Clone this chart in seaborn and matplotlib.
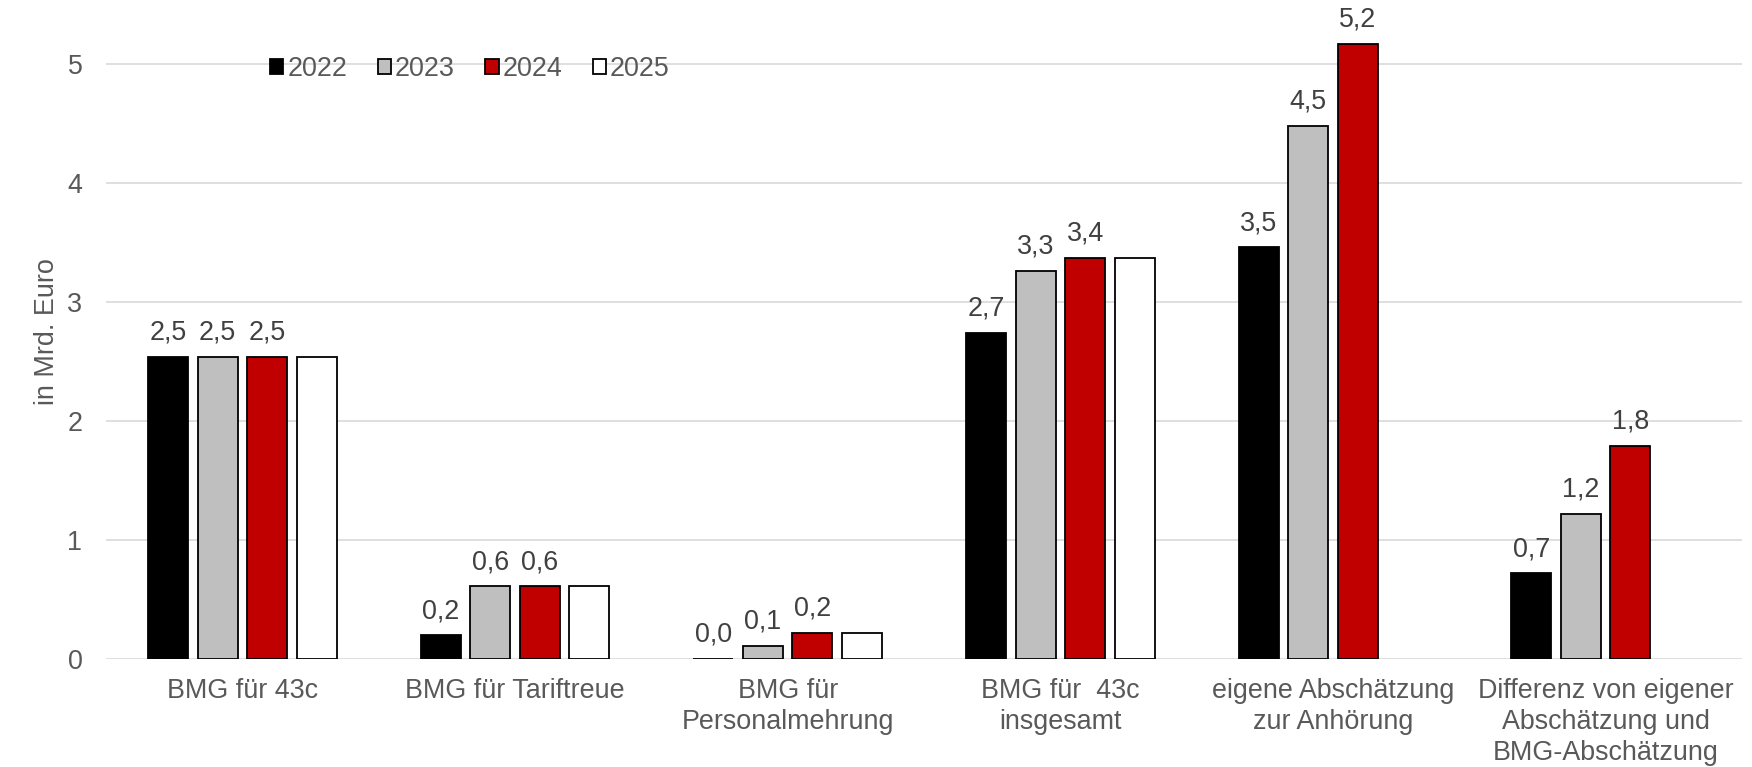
import numpy as np
import pandas as pd
import matplotlib
matplotlib.use("Agg")
import matplotlib.pyplot as plt
from matplotlib.patches import Patch
import seaborn as sns

categories = ["BMG für 43c", "BMG für Tariftreue", "BMG für\nPersonalmehrung",
              "BMG für  43c\ninsgesamt", "eigene Abschätzung\nzur Anhörung",
              "Differenz von eigener\nAbschätzung und\nBMG-Abschätzung"]
years = ["2022", "2023", "2024", "2025"]
v2022 = [2.54, 0.20, 0.00, 2.74, 3.46, 0.72]
v2023 = [2.54, 0.61, 0.11, 3.26, 4.48, 1.22]
v2024 = [2.54, 0.61, 0.22, 3.37, 5.17, 1.79]
v2025 = [2.54, 0.61, 0.22, 3.37, np.nan, np.nan]
colors = ["#000000", "#bfbfbf", "#c00000", "#ffffff"]
labeled_years = ["2022", "2023", "2024"]

rows = []
for yr, vals in zip(years, [v2022, v2023, v2024, v2025]):
    for c, v in zip(categories, vals):
        rows.append({"cat": c, "year": yr, "val": v})
df = pd.DataFrame(rows)

sns.set_theme(style="white")
plt.rcParams["font.family"] = ["Liberation Sans", "DejaVu Sans"]

FS = 19.4
fig = plt.figure(figsize=(17.52, 7.67), dpi=100)
ax = fig.add_axes([106/1752, 1-659/767, (1742-106)/1752, (659-4.5)/767])

sns.barplot(data=df, x="cat", y="val", hue="year", order=categories, hue_order=years,
            palette=colors, saturation=1, width=0.726, gap=0.19, edgecolor="black",
            linewidth=1.3, errorbar=None, legend=False, ax=ax)

for cont, yr in zip(ax.containers, years):
    if yr in labeled_years:
        ax.bar_label(cont, labels=[f"{b.get_height():.1f}".replace(".", ",") for b in cont],
                     padding=8, fontsize=FS, color="#404040")

ax.set_ylim(0, 5.5)
ax.set_xlim(-0.5, len(categories) - 0.5)
ax.set_yticks([0, 1, 2, 3, 4, 5])
ax.set_yticklabels(["0", "1", "2", "3", "4", "5"])
ax.yaxis.grid(True, color="#d9d9d9", linewidth=1.2)
ax.set_axisbelow(True)
for s in ax.spines.values():
    s.set_visible(False)
ax.tick_params(axis="both", length=0, labelsize=FS, labelcolor="#595959")
ax.tick_params(axis="y", pad=17)
ax.tick_params(axis="x", pad=14)
for t in ax.get_xticklabels():
    t.set_linespacing(1.24)
ax.set_xlabel("")
ax.set_ylabel("in Mrd. Euro", fontsize=FS, color="#595959", labelpad=5)

handles = [Patch(facecolor=c, edgecolor="black", linewidth=1.3) for c in colors]
fig.legend(handles, years, loc="center left", bbox_to_anchor=(270/1752, 1-69/767),
           ncol=4, frameon=False, fontsize=FS, handlelength=0.5, handleheight=0.5,
           handletextpad=0.15, columnspacing=1.12, borderpad=0, borderaxespad=0,
           labelcolor="#595959")

fig.savefig("out.png", dpi=100)
